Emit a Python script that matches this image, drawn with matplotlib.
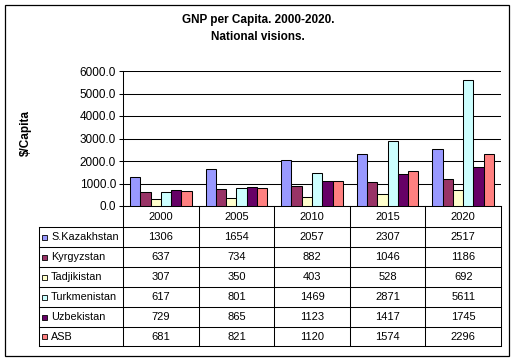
import numpy as np
import matplotlib.pyplot as plt
from matplotlib.patches import Rectangle

plt.rcParams['font.family'] = ['Liberation Sans', 'DejaVu Sans']

years = ['2000', '2005', '2010', '2015', '2020']
countries = ['S.Kazakhstan', 'Kyrgyzstan', 'Tadjikistan', 'Turkmenistan', 'Uzbekistan', 'ASB']
kaz = [1306, 1654, 2057, 2307, 2517]
kyr = [637, 734, 882, 1046, 1186]
tad = [307, 350, 403, 528, 692]
tur = [617, 801, 1469, 2871, 5611]
uzb = [729, 865, 1123, 1417, 1745]
asb = [681, 821, 1120, 1574, 2296]
series = [kaz, kyr, tad, tur, uzb, asb]
colors = ['#9999FF', '#993366', '#FFFFCC', '#CCFFFF', '#660066', '#FF8080']

W, H = 517, 362
fig = plt.figure(figsize=(W/100, H/100), dpi=100)

# pixel layout of plot area and table
x0, x1 = 123, 501
y_top, y_zero = 71, 206
col_w = (x1 - x0) / len(years)
lab_x = 39
row_y = [206, 227, 247, 267, 287, 307, 327, 346]

ax = fig.add_axes([x0/W, 1 - y_zero/H, (x1 - x0)/W, (y_zero - y_top)/H])
ax.set_facecolor('none')
n = len(series)
bw = 0.136
xs = np.arange(len(years)) + 0.5
for i, (vals, c) in enumerate(zip(series, colors)):
    ax.bar(xs + (i - (n - 1)/2)*bw, vals, width=bw, color=c,
           edgecolor='black', linewidth=0.75, zorder=3)
ax.set_xlim(0, len(years))
ax.set_ylim(0, 6000)
ax.set_yticks(np.arange(0, 6001, 1000))
ax.set_yticklabels(['%.1f' % v for v in np.arange(0, 6001, 1000)], fontsize=8.5)
ax.set_xticks([])
ax.grid(axis='y', color='black', linewidth=0.75, zorder=1)
for s in ['top', 'right', 'bottom']:
    ax.spines[s].set_visible(False)
ax.spines['left'].set_linewidth(0.75)
ax.tick_params(axis='y', length=3, width=0.75, pad=2)

# overlay in pixel coordinates for frame, titles and data table
ov = fig.add_axes([0, 0, 1, 1], zorder=-1)
ov.set_xlim(0, W)
ov.set_ylim(H, 0)
ov.axis('off')
ov.add_patch(Rectangle((5, 5), 504, 351, fill=False, edgecolor='black', linewidth=0.9))

ov.text(258, 20, 'GNP per Capita. 2000-2020.', ha='center', va='center',
        fontsize=8.5, fontweight='bold')
ov.text(258, 37, 'National visions.', ha='center', va='center',
        fontsize=8.5, fontweight='bold')
ov.text(26, 133, r'\$/Capita', ha='center', va='center', rotation=90,
        fontsize=8.5, fontweight='bold')

lw = 0.75
# horizontal table lines
ov.plot([x0, x1], [row_y[0], row_y[0]], color='black', lw=lw)
for y in row_y[1:]:
    ov.plot([lab_x, x1], [y, y], color='black', lw=lw)
# vertical table lines
ov.plot([lab_x, lab_x], [row_y[1], row_y[-1]], color='black', lw=lw)
for j in range(len(years) + 1):
    xx = x0 + j*col_w
    ov.plot([xx, xx], [row_y[0], row_y[-1]], color='black', lw=lw)

for j, yr in enumerate(years):
    ov.text(x0 + (j + 0.5)*col_w, (row_y[0] + row_y[1])/2 + 0.5, yr,
            ha='center', va='center', fontsize=8)

for i, (name, vals, c) in enumerate(zip(countries, series, colors)):
    yc = (row_y[i+1] + row_y[i+2])/2 + 0.5
    ov.add_patch(Rectangle((42, yc - 3), 5, 5, facecolor=c, edgecolor='black', linewidth=0.6))
    ov.text(51, yc, name, ha='left', va='center', fontsize=7.8)
    for j, v in enumerate(vals):
        ov.text(x0 + (j + 0.5)*col_w, yc, str(v), ha='center', va='center', fontsize=8)

plt.savefig('out.png', dpi=100)
